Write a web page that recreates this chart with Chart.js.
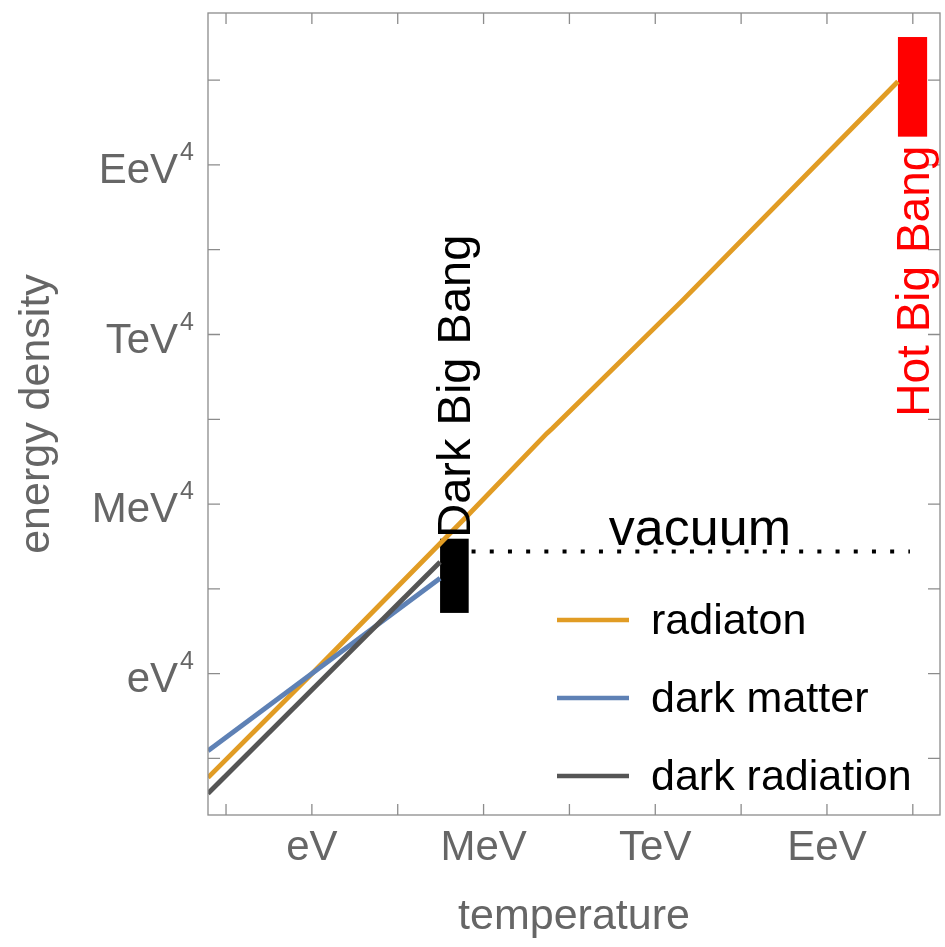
<!DOCTYPE html>
<html>
<head>
<meta charset="utf-8">
<script src="https://cdn.jsdelivr.net/npm/chart.js@4.4.0/dist/chart.umd.min.js"></script>
<style>
  html, body { margin: 0; padding: 0; background: #fff; }
  #wrap { width: 945px; height: 947px; }
</style>
</head>
<body>
<div id="wrap"><canvas id="energyChart"></canvas></div>
<script>
// x = log10(T / eV), y = log10(rho / eV^4)
const radiationT = [-3.63, 0, 5.52, 8.21, 8.4, 12.97, 20.48];
const radiationRho = [-14.7, 0, 22.7, 34.0, 34.7, 52.9, 83.8];
const darkMatterT = [-3.63, 4.48];
const darkMatterRho = [-10.9, 13.5];
const darkRadiationT = [-3.63, 4.48];
const darkRadiationRho = [-16.95, 15.8];
const vacuumT = [5.58, 20.9];
const vacuumRho = [17.3, 17.3];

// the two "big bang" bars: [from, to]
const darkBangT = [4.48, 5.48];
const darkBangRho = [8.6, 19.1];
const hotBangT = [20.48, 21.5];
const hotBangRho = [76.0, 90.1];

const xTicks = [-3, 0, 3, 6, 9, 12, 15, 18, 21];
const xTickLabels = ['', 'eV', '', 'MeV', '', 'TeV', '', 'EeV', ''];
const yTicks = [-12, 0, 12, 24, 36, 48, 60, 72, 84];
const yTickLabels = ['', 'eV', '', 'MeV', '', 'TeV', '', 'EeV', ''];

const FONT = '"Liberation Sans", Arial, sans-serif';
const toPoints = (xs, ys) => xs.map((v, i) => ({x: v, y: ys[i]}));

// bars, frame, inward ticks, y labels with superscript, annotations, legend
const decorations = {
    id: 'decorations',
    beforeDatasetsDraw(chart) {
        const {ctx, scales: {x, y}} = chart;
        ctx.save();
        [[darkBangT, darkBangRho, '#000000'], [hotBangT, hotBangRho, '#ff0000']].forEach(([t, r, c]) => {
            const x0 = x.getPixelForValue(t[0]), x1 = x.getPixelForValue(t[1]);
            const y0 = y.getPixelForValue(r[0]), y1 = y.getPixelForValue(r[1]);
            ctx.fillStyle = c;
            ctx.fillRect(x0, y1, x1 - x0, y0 - y1);
        });
        ctx.restore();
    },
    afterDatasetsDraw(chart) {
        const {ctx, chartArea: a, scales: {x, y}} = chart;
        ctx.save();

        ctx.strokeStyle = '#8c8c8c';
        ctx.lineWidth = 1.3;
        ctx.strokeRect(a.left, a.top, a.right - a.left, a.bottom - a.top);
        ctx.beginPath();
        xTicks.forEach(v => {
            const px = x.getPixelForValue(v);
            ctx.moveTo(px, a.bottom); ctx.lineTo(px, a.bottom - 11);
            ctx.moveTo(px, a.top); ctx.lineTo(px, a.top + 11);
        });
        yTicks.forEach(v => {
            const py = y.getPixelForValue(v);
            ctx.moveTo(a.left, py); ctx.lineTo(a.left + 12, py);
            ctx.moveTo(a.right, py); ctx.lineTo(a.right - 12, py);
        });
        ctx.stroke();

        ctx.fillStyle = '#666666';
        ctx.textAlign = 'right';
        ctx.textBaseline = 'alphabetic';
        yTicks.forEach((v, i) => {
            if (!yTickLabels[i]) return;
            const py = y.getPixelForValue(v);
            ctx.font = '25px ' + FONT;
            const w = ctx.measureText('4').width;
            ctx.fillText('4', a.left - 14, py - 5);
            ctx.font = '42px ' + FONT;
            ctx.fillText(yTickLabels[i], a.left - 16 - w, py + 18);
        });

        // Dark Big Bang, rotated, sitting on top of the black bar
        ctx.save();
        ctx.translate(x.getPixelForValue(darkBangT[1]) + 1, y.getPixelForValue(darkBangRho[1]) - 1);
        ctx.rotate(-Math.PI / 2);
        ctx.font = '47px ' + FONT;
        ctx.fillStyle = '#000000';
        ctx.textAlign = 'left';
        ctx.fillText('Dark Big Bang', 0, 0);
        ctx.restore();

        // Hot Big Bang, rotated, below the red bar
        ctx.save();
        ctx.translate(x.getPixelForValue(hotBangT[1]) + 2, y.getPixelForValue(hotBangRho[0]) + 9);
        ctx.rotate(-Math.PI / 2);
        ctx.font = '46px ' + FONT;
        ctx.fillStyle = '#ff0000';
        ctx.textAlign = 'right';
        ctx.fillText('Hot Big Bang', 0, 0);
        ctx.restore();

        ctx.font = '52px ' + FONT;
        ctx.fillStyle = '#000000';
        ctx.textAlign = 'center';
        ctx.fillText('vacuum', x.getPixelForValue(13.56), y.getPixelForValue(vacuumRho[0]) - 6);

        // legend
        chart.data.datasets.filter(d => d.inLegend).forEach((d, i) => {
            const ly = 620 + i * 78;
            ctx.strokeStyle = d.borderColor;
            ctx.lineWidth = 4.5;
            ctx.beginPath();
            ctx.moveTo(557, ly);
            ctx.lineTo(629, ly);
            ctx.stroke();
            ctx.fillStyle = '#000000';
            ctx.font = '43px ' + FONT;
            ctx.textAlign = 'left';
            ctx.fillText(d.label, 651, ly + 14);
        });

        ctx.restore();
    }
};

const energyChart = new Chart(document.getElementById('energyChart'), {
    type: 'line',
    data: {
        datasets: [{
            label: 'radiaton',
            data: toPoints(radiationT, radiationRho),
            borderColor: '#E19C24',
            borderWidth: 4.8,
            order: 3,
            inLegend: true
        }, {
            label: 'dark matter',
            data: toPoints(darkMatterT, darkMatterRho),
            borderColor: '#5E81B5',
            borderWidth: 4.8,
            order: 2,
            inLegend: true
        }, {
            label: 'dark radiation',
            data: toPoints(darkRadiationT, darkRadiationRho),
            borderColor: '#555555',
            borderWidth: 4.8,
            order: 1,
            inLegend: true
        }, {
            label: 'vacuum',
            data: toPoints(vacuumT, vacuumRho),
            borderColor: '#000000',
            borderWidth: 4,
            borderDash: [4, 14.2],
            borderCapStyle: 'butt',
            order: 0
        }]
    },
    options: {
        responsive: true,
        maintainAspectRatio: false,
        animation: false,
        layout: { padding: { top: 13, right: 5, bottom: 0, left: 0 } },
        elements: { point: { radius: 0 }, line: { tension: 0 } },
        plugins: { legend: { display: false }, tooltip: { enabled: false } },
        scales: {
            x: {
                type: 'linear',
                min: -3.63,
                max: 21.95,
                afterBuildTicks: s => { s.ticks = xTicks.map(v => ({value: v})); },
                afterFit: s => { s.height = 132; },
                grid: { display: false, drawTicks: false },
                border: { display: false },
                ticks: {
                    autoSkip: false,
                    maxRotation: 0,
                    minRotation: 0,
                    padding: 8,
                    color: '#666666',
                    font: { family: FONT, size: 42 },
                    callback: v => xTickLabels[xTicks.indexOf(v)] || ''
                },
                title: {
                    display: true,
                    text: 'temperature',
                    color: '#666666',
                    font: { family: FONT, size: 43 },
                    padding: { top: 0, bottom: 4 }
                }
            },
            y: {
                type: 'linear',
                min: -20,
                max: 93.5,
                afterBuildTicks: s => { s.ticks = yTicks.map(v => ({value: v})); },
                afterFit: s => { s.width = 208; },
                grid: { display: false, drawTicks: false },
                border: { display: false },
                ticks: { display: false },
                title: {
                    display: true,
                    text: 'energy density',
                    color: '#666666',
                    font: { family: FONT, size: 43 },
                    padding: { top: 11, bottom: 0 }
                }
            }
        }
    },
    plugins: [decorations]
});
</script>
</body>
</html>
